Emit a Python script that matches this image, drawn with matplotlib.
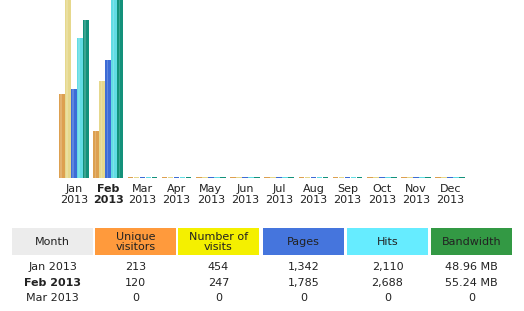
import matplotlib
matplotlib.use("Agg")
import matplotlib.pyplot as plt
import matplotlib.patches as patches
import numpy as np

months = ["Jan", "Feb", "Mar", "Apr", "May", "Jun", "Jul", "Aug", "Sep", "Oct", "Nov", "Dec"]
year = "2013"
current = 1  # Feb is the current month (bold)

visitors = [213, 120, 0, 0, 0, 0, 0, 0, 0, 0, 0, 0]
visits = [454, 247, 0, 0, 0, 0, 0, 0, 0, 0, 0, 0]
pages = [1342, 1785, 0, 0, 0, 0, 0, 0, 0, 0, 0, 0]
hits = [2110, 2688, 0, 0, 0, 0, 0, 0, 0, 0, 0, 0]
bandwidth = [48.96, 55.24, 0, 0, 0, 0, 0, 0, 0, 0, 0, 0]  # MB

headers = ["Month", "Unique\nvisitors", "Number of\nvisits", "Pages", "Hits", "Bandwidth"]
header_colors = ["#ECECEC", "#FF9A3C", "#F4F000", "#4575DD", "#66ECFF", "#339944"]
bar_colors = ["#DDA050", "#E6D88C", "#3D6CD6", "#62DCE4", "#13917A"]
table_months = ["Jan 2013", "Feb 2013", "Mar 2013"]
table_rows = [
    ["213", "454", "1,342", "2,110", "48.96 MB"],
    ["120", "247", "1,785", "2,688", "55.24 MB"],
    ["0", "0", "0", "0", "0"],
]

W, H = 524, 311
fig = plt.figure(figsize=(W / 100, H / 100), dpi=100)
fig.patch.set_facecolor("white")

# bar chart, awstats style: each group scaled to its own max
base_px = 178
ax = fig.add_axes([0, (H - base_px) / H, 1, base_px / H])
ax.set_facecolor("none")
spacing = 34.2
center0 = 74
lo = -center0 / spacing
ax.set_xlim(lo, lo + W / spacing)
ax.set_ylim(0, 1)

vmax = max(visits)
hmax = max(hits)
kmax = max(bandwidth)
series = [
    np.array(visitors) / vmax,
    np.array(visits) / vmax,
    np.array(pages) / hmax,
    np.array(hits) / hmax,
    np.array(bandwidth) / kmax,
]
bw = 6 / spacing
x = np.arange(len(months))
min_h = 1.0 / base_px
for i, (vals, c) in enumerate(zip(series, bar_colors)):
    h = np.maximum(vals, min_h)
    ax.bar(x + (i - 2) * bw, h, width=bw * 0.95, color=c, linewidth=0)
    # lighter stripe to suggest the gradient of the bar images
    ax.bar(x + (i - 2) * bw - bw * 0.1, np.where(vals > 0, h, 0), width=bw * 0.3,
           color="white", alpha=0.18, linewidth=0)

ax.set_xticks(x)
ax.set_xticklabels([f"{m}\n{year}" for m in months], fontsize=8, color="#222222",
                   linespacing=1.15)
ax.get_xticklabels()[current].set_fontweight("bold")
ax.tick_params(axis="x", length=0, pad=4)
ax.set_yticks([])
for s in ax.spines.values():
    s.set_visible(False)

# table below
tab = fig.add_axes([0, 0, 1, 1])
tab.set_xlim(0, W)
tab.set_ylim(H, 0)
tab.axis("off")
tab.patch.set_alpha(0)

cell_x = [12, 95, 178, 263, 347, 431]
cell_w = 81
head_top, head_h = 228, 27
for cx, label, col in zip(cell_x, headers, header_colors):
    tab.add_patch(patches.Rectangle((cx, head_top), cell_w, head_h, facecolor=col,
                                    edgecolor="none"))
    tab.text(cx + cell_w / 2, head_top + head_h / 2 + 0.5, label, ha="center", va="center",
             fontsize=8, color="#222222", linespacing=1.1)

row_y = [267, 283, 298]
for r, (mname, vals) in enumerate(zip(table_months, table_rows)):
    tab.text(cell_x[0] + cell_w / 2, row_y[r], mname, ha="center", va="center",
             fontsize=8, color="#222222", fontweight="bold" if r == current else "normal")
    for cx, v in zip(cell_x[1:], vals):
        tab.text(cx + cell_w / 2, row_y[r], v, ha="center", va="center", fontsize=8,
                 color="#222222")

fig.savefig("out.png", dpi=100)
